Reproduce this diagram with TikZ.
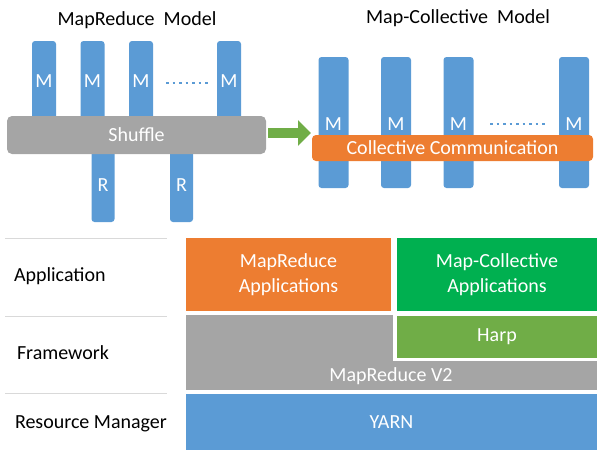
\documentclass[tikz,border=0pt]{standalone}
\usepackage{fontspec}
\setmainfont{Carlito}
\usetikzlibrary{arrows.meta,positioning}
\definecolor{mblue}{HTML}{5B9BD5}
\definecolor{morange}{HTML}{ED7D31}
\definecolor{mgray}{HTML}{A5A5A5}
\definecolor{mgreen}{HTML}{00B050}
\definecolor{hgreen}{HTML}{70AD47}
\definecolor{sepgray}{HTML}{D9D9D9}
\tikzset{
  every node/.style={font=\fontsize{20}{25}\selectfont, inner sep=0pt, outer sep=0pt},
  mbox/.style={fill=mblue, rounded corners=3pt, text=white, draw=none},
  lmbox/.style={mbox, minimum width=24pt, minimum height=80pt},
  rbox/.style={mbox, minimum width=23pt, minimum height=79pt},
  cmbox/.style={mbox, minimum width=30pt, minimum height=131pt},
  layer/.style={draw=none, text=white, align=center},
  sep/.style={draw=sepgray, line width=1pt},
  dotline/.style={draw=mblue, line width=2.5pt, dash pattern=on 2.5pt off 4pt},
  lbl/.style={anchor=west, text=black},
  title/.style={text=black}
}
\begin{document}
\begin{tikzpicture}[x=1pt,y=-1pt]
\useasboundingbox (0,0) rectangle (597,450);
% ---- MapReduce model
\node[title] (t1) at (137,20) {MapReduce\ \ Model};
\node[lmbox] (m1) at (44,81) {M};
\node[lmbox] (m2) at (92.5,81) {M};
\node[lmbox] (m3) at (141,81) {M};
\node[lmbox] (m4) at (229,81) {M};
\node[rbox] (r1) at (103,182.5) {};
\node[rbox] (r2) at (181.5,182.5) {};
\node[fill=mgray, rounded corners=5pt, minimum width=259pt, minimum height=38pt, text=white] (shuffle) at (136.5,135) {Shuffle};
\node[text=white] (r1l) at (103,185) {R};
\node[text=white] (r2l) at (181.5,185) {R};
\coordinate (d1a) at (166,83);
\coordinate (d1b) at (208,83);
\draw[dotline] (d1a) -- (d1b);
% ---- Map-Collective model
\node[title] (t2) at (458,18) {Map-Collective\ \ Model};
\node[cmbox] (c1) at (333.5,122.5) {};
\node[cmbox] (c2) at (396,122.5) {};
\node[cmbox] (c3) at (458.5,122.5) {};
\node[cmbox] (c4) at (574,122.5) {};
\node[text=white] at (333.5,124) {M};
\node[text=white] at (396,124) {M};
\node[text=white] at (458.5,124) {M};
\node[text=white] at (574,124) {M};
\node[fill=morange, rounded corners=4pt, minimum width=281pt, minimum height=26pt, text=white] (coll) at (452.5,148) {Collective Communication};
\coordinate (d2a) at (490,124);
\coordinate (d2b) at (548,124);
\draw[dotline] (d2a) -- (d2b);
% ---- arrow
\coordinate (a1) at (268,133);
\coordinate (a2) at (311,133);
\draw[draw=hgreen, line width=10pt, -{Triangle[length=13pt,width=25pt]}] (a1) -- (a2);
% ---- layers
\draw[sep] (5,238) -- (167,238);
\draw[sep] (5,316) -- (167,316);
\draw[sep] (5,393) -- (167,393);
\node[lbl] (lapp) at (14,276) {Application};
\node[lbl] (lfw) at (17,353) {Framework};
\node[lbl] (lrm) at (15,424) {Resource Manager};
\node[layer, fill=morange, minimum width=205pt, minimum height=73pt] (mra) at (288.5,274.5) {MapReduce\\Applications};
\node[layer, fill=mgreen, minimum width=200pt, minimum height=73pt] (mca) at (497,274.5) {Map-Collective\\Applications};
\fill[mgray] (186,315) rectangle (597,390);
\fill[white] (393,312) rectangle (597,361);
\node[layer, fill=hgreen, minimum width=200pt, minimum height=42pt] (harp) at (497,337) {Harp};
\node[text=white] (mr2) at (391,376) {MapReduce V2};
\node[layer, fill=mblue, minimum width=411pt, minimum height=56pt] (yarn) at (391.5,422) {YARN};
\end{tikzpicture}
\end{document}
